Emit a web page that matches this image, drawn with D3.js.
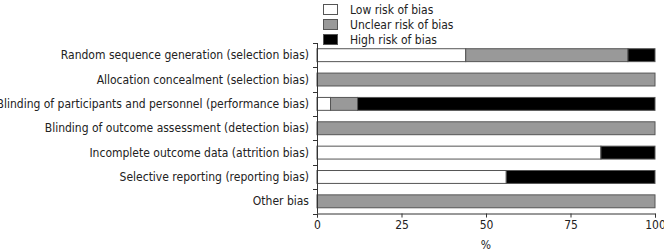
<!DOCTYPE html>
<html><head><meta charset="utf-8">
<script src="https://cdn.jsdelivr.net/npm/d3@7"></script>
<style>body{margin:0;background:#fff}svg{display:block}text{font-family:"DejaVu Sans Condensed","DejaVu Sans",sans-serif;fill:#222}</style>
</head><body><svg id="c" width="664" height="251"></svg>
<script>
const domains = ["Random sequence generation (selection bias)","Allocation concealment (selection bias)","Blinding of participants and personnel (performance bias)","Blinding of outcome assessment (detection bias)","Incomplete outcome data (attrition bias)","Selective reporting (reporting bias)","Other bias"];
const lowRisk = [44, 0, 4, 0, 84, 56, 0];
const unclearRisk = [48, 100, 8, 100, 0, 0, 100];
const highRisk = [8, 0, 88, 0, 16, 44, 0];
const seriesNames = ["Low risk of bias","Unclear risk of bias","High risk of bias"];
const xTicks = [0, 25, 50, 75, 100];
const xLabel = "%";

const FONT = '"DejaVu Sans Condensed","DejaVu Sans",sans-serif';
const colors = ["#ffffff", "#999999", "#000000"];
const svg = d3.select("#c");
const m = {l:317, r:9, t:43, b:38};
const W = 664, H = 251;
const x = d3.scaleLinear().domain([0,100]).range([m.l, W-m.r]);
const y = d3.scaleBand().domain(domains).range([m.t, 213.5]).paddingInner(0.47).paddingOuter(0.235);

const stackData = domains.map((d,i)=>({d, low:lowRisk[i], unclear:unclearRisk[i], high:highRisk[i]}));
const stack = d3.stack().keys(["low","unclear","high"])(stackData);

stack.forEach((s,k)=>{
  svg.append("g").selectAll("rect").data(s.filter(p=>p[1]-p[0]>0)).join("rect")
    .attr("x", p=>x(p[0])).attr("width", p=>x(p[1])-x(p[0]))
    .attr("y", p=>y(p.data.d)).attr("height", y.bandwidth())
    .attr("fill", colors[k]).attr("stroke", "#555").attr("stroke-width", 1);
});

// x axis
const xa = svg.append("g").attr("transform","translate(0,213.5)")
  .call(d3.axisBottom(x).tickValues(xTicks).tickSize(4).tickPadding(3));
xa.select(".domain").attr("stroke","#333");
xa.selectAll(".tick line").attr("stroke","#333");
xa.selectAll("text").attr("font-size",12).style("font-family",FONT).attr("fill","#222");
svg.append("text").attr("x", x(50)).attr("y", 249).attr("text-anchor","middle").attr("font-size",12).text(xLabel);

// y axis with ticks between categories
const yb = d3.range(domains.length+1).map(i=> m.t + i*(213.5-m.t)/domains.length);
svg.append("line").attr("x1",x(0)+0.5).attr("x2",x(0)+0.5).attr("y1",yb[0]).attr("y2",213.5).attr("stroke","#333");
svg.append("g").selectAll("line").data(yb).join("line")
  .attr("x1",x(0)-4).attr("x2",x(0)+0.5).attr("y1",d=>Math.round(d)+0.5).attr("y2",d=>Math.round(d)+0.5).attr("stroke","#333");
svg.append("g").selectAll("text").data(domains).join("text")
  .attr("x", 309).attr("y", d=>y(d)+y.bandwidth()/2+4).attr("text-anchor","end")
  .attr("font-size",12).text(d=>d);

// legend
const lg = svg.append("g");
seriesNames.forEach((n,i)=>{
  lg.append("rect").attr("x",323.5).attr("y",4.5+i*15).attr("width",14).attr("height",10)
    .attr("fill",colors[i]).attr("stroke","#555");
  lg.append("text").attr("x",350).attr("y",13.5+i*15).attr("font-size",12).text(n);
});
</script></body></html>
